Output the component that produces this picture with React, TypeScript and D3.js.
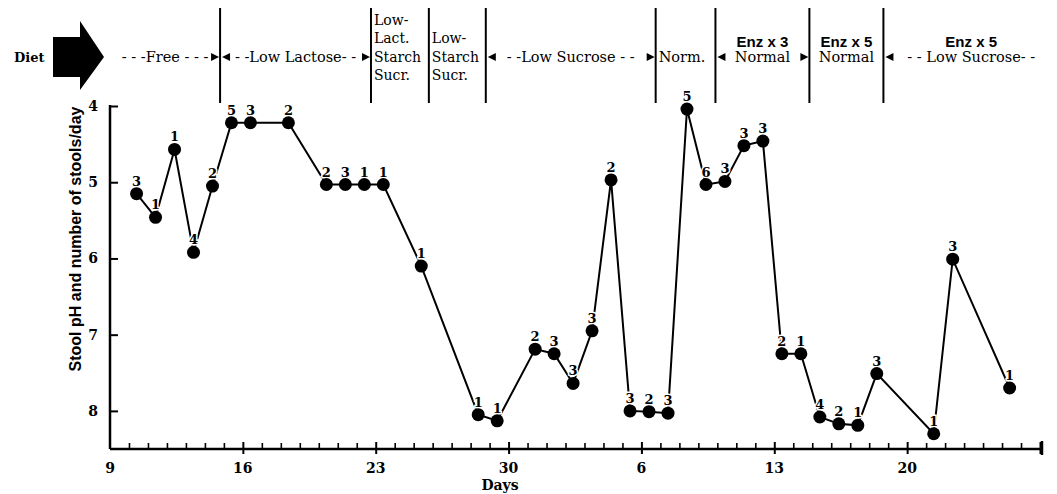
import React, { useEffect, useRef } from 'react';
import * as d3 from 'd3';

// day index 0 = the 9th; the month rolls over after the 31st
const dayIdx = [1, 2, 3, 4, 5, 6, 7, 9, 11, 12, 13, 14, 16, 19, 20, 22, 23, 24, 25, 26, 27, 28, 29, 30, 31, 32, 33, 34, 35, 36, 37, 38, 39, 40, 43, 44, 47];
const stoolPH = [5.15, 5.46, 4.57, 5.92, 5.05, 4.22, 4.22, 4.22, 5.03, 5.03, 5.03, 5.03, 6.1, 8.05, 8.13, 7.19, 7.25, 7.64, 6.95, 4.97, 8.0, 8.01, 8.03, 4.04, 5.03, 4.99, 4.52, 4.46, 7.25, 7.25, 8.08, 8.17, 8.19, 7.51, 8.3, 6.01, 7.7];
const stoolsPerDay = ['3', '1', '1', '4', '2', '5', '3', '2', '2', '3', '1', '1', '1', '1', '1', '2', '3', '3', '3', '2', '3', '2', '3', '5', '6', '3', '3', '3', '2', '1', '4', '2', '1', '3', '1', '3', '1'];

const tickDays = [0, 7, 14, 21, 28, 35, 42];
const tickLabels = ['9', '16', '23', '30', '6', '13', '20'];
const yTicks = [4, 5, 6, 7, 8];

// diet periods: boundaries in day index
const dietBounds = [0, 5.8, 13.75, 16.8, 19.8, 28.75, 31.9, 36.85, 40.75, 50];
const dietTop = ['', '', '', '', '', '', 'Enz x 3', 'Enz x 5', 'Enz x 5'];
const dietMain = ['- - -Free - - -', '- -Low Lactose- -', 'Low-|Lact.|Starch|Sucr.', 'Low-|Starch|Sucr.', '- -Low Sucrose - -', 'Norm.', 'Normal', 'Normal', '- - Low Sucrose- -'];
const arrowLeft = [false, true, false, false, true, false, true, false, true];
const arrowRight = [true, true, false, false, true, false, true, false, false];

const SERIF = '"DejaVu Serif", serif';
const SANS = '"Liberation Sans", Arial, sans-serif';

const App = () => {
  const svgRef = useRef<SVGSVGElement>(null);

  useEffect(() => {
    const svg = d3.select(svgRef.current);
    svg.selectAll('*').remove();

    const x = d3.scaleLinear().domain([0, 49]).range([110, 1040]);
    const y = d3.scaleLinear().domain([4, 8.5]).range([106, 449]);
    const offset = 0.4;

    // x axis
    const xAxis = d3.axisBottom(x)
      .tickValues(d3.range(1, 50))
      .tickSizeInner(-6)
      .tickSizeOuter(0)
      .tickFormat(() => '');
    const gx = svg.append('g')
      .attr('transform', `translate(0,449)`)
      .call(xAxis);
    gx.select('.domain').remove();
    gx.selectAll('.tick line').attr('stroke', '#000').attr('stroke-width', 1.6);
    gx.selectAll('.tick')
      .filter((d: any) => tickDays.includes(d) || d === 49)
      .select('line')
      .attr('y1', 5)
      .attr('y2', -7)
      .attr('stroke-width', 2);
    gx.append('line')
      .attr('x1', 110).attr('x2', 1042)
      .attr('stroke', '#000').attr('stroke-width', 2.5);
    gx.append('line')
      .attr('x1', 1042).attr('x2', 1042).attr('y1', -8).attr('y2', 6)
      .attr('stroke', '#000').attr('stroke-width', 2.5);

    gx.selectAll('text.lab')
      .data(tickDays)
      .enter().append('text')
      .attr('class', 'lab')
      .attr('x', d => x(d))
      .attr('y', 24)
      .attr('text-anchor', 'middle')
      .attr('fill', '#000')
      .attr('font-family', SERIF)
      .attr('font-weight', 'bold')
      .attr('font-size', 14)
      .text((d, i) => tickLabels[i]);

    svg.append('text')
      .attr('x', 500).attr('y', 490)
      .attr('text-anchor', 'middle')
      .attr('font-family', SERIF)
      .attr('font-weight', 'bold')
      .attr('font-size', 14)
      .text('Days');

    // y axis
    const yAxis = d3.axisLeft(y)
      .tickValues(yTicks)
      .tickSizeInner(-8)
      .tickSizeOuter(0)
      .tickPadding(12)
      .tickFormat(d3.format('d'));
    const gy = svg.append('g')
      .attr('transform', 'translate(110,0)')
      .call(yAxis);
    gy.select('.domain').remove();
    gy.selectAll('.tick line').attr('stroke', '#000').attr('stroke-width', 2);
    gy.selectAll('.tick text')
      .attr('font-family', SERIF)
      .attr('font-weight', 'bold')
      .attr('font-size', 14)
      .attr('fill', '#000');
    gy.append('line')
      .attr('y1', 105).attr('y2', 449)
      .attr('stroke', '#000').attr('stroke-width', 2.5);

    svg.append('text')
      .attr('transform', 'translate(81,239) rotate(-90)')
      .attr('text-anchor', 'middle')
      .attr('font-family', SANS)
      .attr('font-weight', 'bold')
      .attr('font-size', 16)
      .text('Stool pH and number of stools/day');

    // diet header
    svg.append('text')
      .attr('x', 14).attr('y', 62)
      .attr('font-family', SERIF)
      .attr('font-weight', 'bold')
      .attr('font-size', 13)
      .text('Diet');
    svg.append('path')
      .attr('d', 'M53,37 L80,37 L80,21 L104,57 L80,90 L80,77 L53,77 Z')
      .attr('fill', '#000');

    const dividers = dietBounds.slice(1, -1);
    svg.selectAll('line.div')
      .data(dividers)
      .enter().append('line')
      .attr('class', 'div')
      .attr('x1', d => x(d)).attr('x2', d => x(d))
      .attr('y1', 8).attr('y2', 103)
      .attr('stroke', '#000').attr('stroke-width', 2);

    dietMain.forEach((label, i) => {
      const x0 = x(dietBounds[i]);
      const x1 = x(dietBounds[i + 1]);
      const cx = (x0 + x1) / 2;
      const lines = label.split('|');
      if (lines.length > 1) {
        const base = lines.length === 4 ? [25, 43, 62, 80] : [43, 62, 80];
        lines.forEach((l, j) => {
          svg.append('text')
            .attr('x', x0 + 3).attr('y', base[j])
            .attr('font-family', SERIF)
            .attr('font-size', 14)
            .text(l);
        });
        return;
      }
      const leftAligned = lines[0] === 'Norm.';
      svg.append('text')
        .attr('x', leftAligned ? x0 + 3 : cx).attr('y', 62)
        .attr('text-anchor', leftAligned ? 'start' : 'middle')
        .attr('font-family', SERIF)
        .attr('font-size', 14.5)
        .text(lines[0]);
      if (dietTop[i]) {
        svg.append('text')
          .attr('x', cx).attr('y', 47)
          .attr('text-anchor', 'middle')
          .attr('font-family', SANS)
          .attr('font-weight', 'bold')
          .attr('font-size', 15)
          .text(dietTop[i]);
      }
      if (arrowRight[i]) {
        svg.append('path')
          .attr('d', `M${x1 - 1},57 L${x1 - 9},53 L${x1 - 9},61 Z`)
          .attr('fill', '#000');
      }
      if (arrowLeft[i]) {
        svg.append('path')
          .attr('d', `M${x0 + 2},57 L${x0 + 10},53 L${x0 + 10},61 Z`)
          .attr('fill', '#000');
      }
    });

    // data line and points
    const pts = dayIdx.map((d, i) => ({ d: d + offset, v: stoolPH[i], n: stoolsPerDay[i] }));
    const line = d3.line<any>().x(p => x(p.d)).y(p => y(p.v));
    svg.append('path')
      .datum(pts)
      .attr('d', line)
      .attr('fill', 'none')
      .attr('stroke', '#000')
      .attr('stroke-width', 2);

    svg.selectAll('text.num')
      .data(pts)
      .enter().append('text')
      .attr('class', 'num')
      .attr('x', p => x(p.d))
      .attr('y', p => y(p.v) - 8)
      .attr('text-anchor', 'middle')
      .attr('font-family', SERIF)
      .attr('font-weight', 'bold')
      .attr('font-size', 13)
      .attr('stroke', '#fff')
      .attr('stroke-width', 3)
      .attr('paint-order', 'stroke')
      .text(p => p.n);

    svg.selectAll('circle.pt')
      .data(pts)
      .enter().append('circle')
      .attr('class', 'pt')
      .attr('cx', p => x(p.d))
      .attr('cy', p => y(p.v))
      .attr('r', 6.5)
      .attr('fill', '#000');
  }, []);

  return (
    <svg
      ref={svgRef}
      width={1057}
      height={494}
      style={{ position: 'absolute', left: 0, top: 0, background: '#fff' }}
    ></svg>
  );
};

export default App;
